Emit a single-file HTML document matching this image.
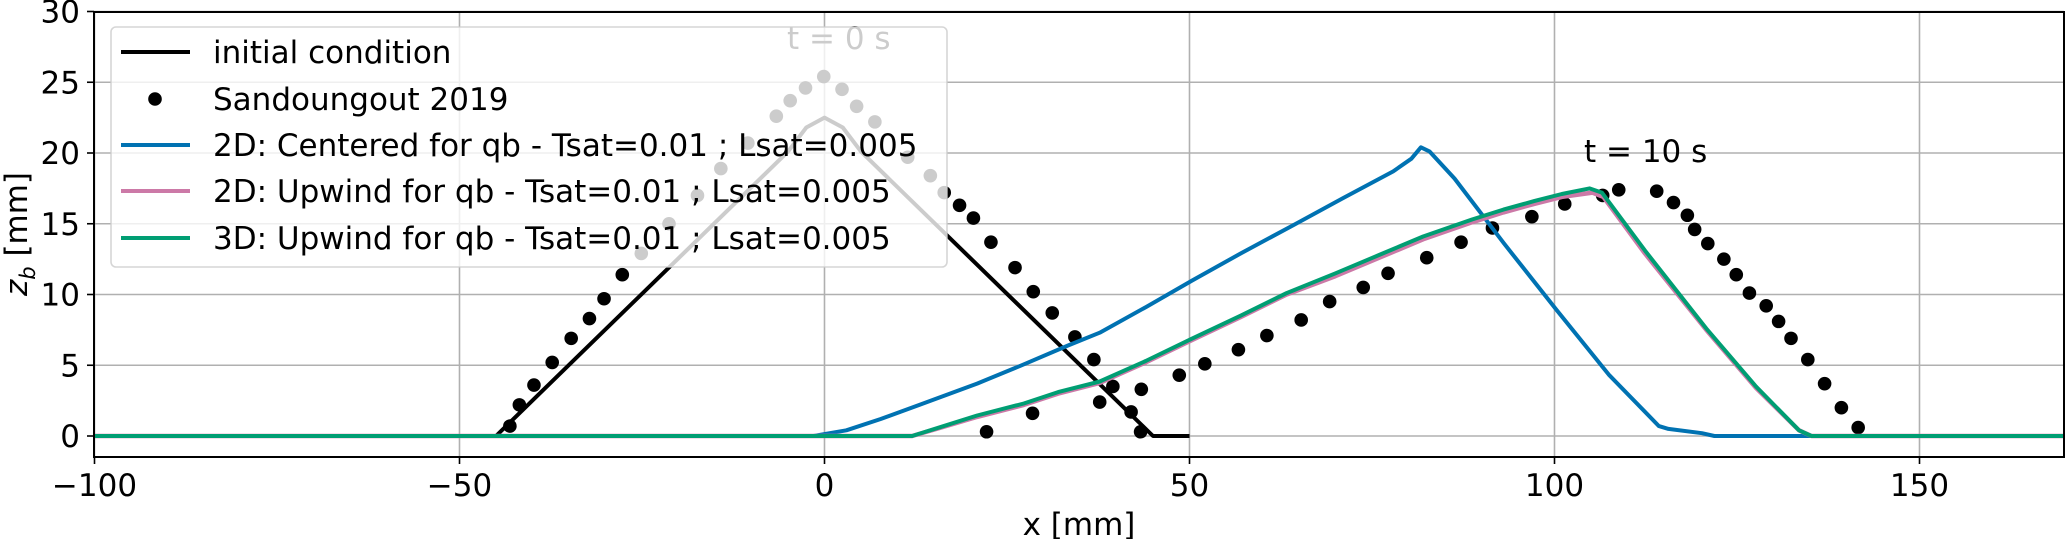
<!DOCTYPE html>
<html><head><meta charset="utf-8"><style>
html,body{margin:0;padding:0;background:#fff;}
svg{display:block;font-family:"DejaVu Sans","Liberation Sans",sans-serif;}
</style></head><body>
<svg id="chart" width="2067" height="539" viewBox="0 0 2067 539" xmlns="http://www.w3.org/2000/svg"></svg>
<script>
const xTicks = [-100, -50, 0, 50, 100, 150];
const yTicks = [0, 5, 10, 15, 20, 25, 30];
const initX = [-45, -5, -2.5, 0, 2.5, 5, 45, 50];
const initY = [0, 20.1, 21.8, 22.5, 21.8, 20.1, 0, 0];
const dotX0 = [-43.1,-41.8,-39.8,-37.3,-34.7,-32.2,-30.2,-27.7,-25.1,-21.3,-17.4,-14.2,-10.5,-6.6,-4.7,-2.6,-0.1,2.4,4.4,6.9,11.4,14.5,16.4,18.5,20.4,22.8,26.1,28.6,31.2,34.3,36.9,39.5,42.0,43.3];
const dotY0 = [0.7,2.2,3.6,5.2,6.9,8.3,9.7,11.4,12.9,15.0,17.0,18.9,20.7,22.6,23.7,24.6,25.4,24.5,23.3,22.2,19.7,18.4,17.2,16.3,15.4,13.7,11.9,10.2,8.7,7.0,5.4,3.5,1.7,0.3];
const dotX10 = [22.2,28.5,37.7,43.4,48.6,52.1,56.7,60.6,65.3,69.2,73.8,77.2,82.5,87.2,91.5,96.9,101.4,106.6,108.8,114.0,116.3,118.2,119.2,121.0,123.2,124.9,126.7,129.0,130.7,132.4,134.7,137.0,139.3,141.6];
const dotY10 = [0.3,1.6,2.4,3.3,4.3,5.1,6.1,7.1,8.2,9.5,10.5,11.5,12.6,13.7,14.7,15.5,16.4,17.0,17.4,17.3,16.5,15.6,14.6,13.6,12.5,11.4,10.1,9.2,8.1,6.9,5.4,3.7,2.0,0.6];
const blueX = [-100,-1.5,3,7.7,13,20.9,27,33.4,37.7,44,50.4,57,64.2,71,77.9,80.4,81.7,82.9,86.3,93.1,100.3,107.5,114.3,115.6,120.2,121.9,170];
const blueY = [0,0,0.4,1.2,2.2,3.7,5.0,6.4,7.3,9.1,11.0,12.9,14.9,16.8,18.7,19.6,20.4,20.1,18.2,13.6,8.9,4.3,0.7,0.5,0.2,0,0];
const pinkX = [-100,12,16,20.9,27.3,32,37.7,44,50.4,57,63.3,70,76.0,82,88.7,93,97.2,101,105.2,106.7,112.4,120.8,127.6,133.5,135.2,170];
const pinkY = [0,0,0.6,1.35,2.2,3.0,3.75,5.2,6.8,8.4,10.0,11.3,12.6,13.9,15.1,15.8,16.4,16.9,17.2,16.9,12.9,7.5,3.4,0.4,0,0];
const greenX = [-100,12,16,20.9,27.3,32,37.7,44,50.4,57,63.3,70,76.0,82,88.7,93,97.2,101,104.8,106.5,112.4,120.8,127.6,133.5,135.2,170];
const greenY = [0,0,0.65,1.45,2.3,3.1,3.85,5.3,6.9,8.5,10.1,11.5,12.8,14.1,15.3,16.0,16.6,17.1,17.5,17.2,13.1,7.6,3.5,0.4,0,0];
const legendLabels = ["initial condition","Sandoungout 2019","2D: Centered for qb - Tsat=0.01 ; Lsat=0.005","2D: Upwind for qb - Tsat=0.01 ; Lsat=0.005","3D: Upwind for qb - Tsat=0.01 ; Lsat=0.005"];

const L=94,R=2064,T=12,B=457;
const X=v=>824.5+7.3*v;
const Y=v=>436-14.15*v;
const NS="http://www.w3.org/2000/svg";
const svg=document.getElementById('chart');
function mk(tag,attrs,parent){const e=document.createElementNS(NS,tag);for(const k in attrs)e.setAttribute(k,attrs[k]);(parent||svg).appendChild(e);return e;}

const grid=mk('g',{});


xTicks.forEach(t=>{
  const l=mk('line',{x1:X(t),x2:X(t),y1:T,y2:B,stroke:'#b0b0b0','stroke-width':1.6},grid);
  
  
  const tk=mk('line',{x1:X(t),x2:X(t),y1:B,y2:B+7,stroke:'#000','stroke-width':1.6});
  
  
  const tx=mk('text',{x:X(t),y:496,'font-size':31,'text-anchor':'middle'});
  tx.textContent=t<0?'\u2212'+(-t):String(t);
  
  
});
yTicks.forEach(t=>{
  const l=mk('line',{x1:L,x2:R,y1:Y(t),y2:Y(t),stroke:'#b0b0b0','stroke-width':1.6},grid);
  
  
  const tk=mk('line',{x1:L-7,x2:L,y1:Y(t),y2:Y(t),stroke:'#000','stroke-width':1.6});
  
  
  const tx=mk('text',{x:L-14,y:Y(t)+11,'font-size':31,'text-anchor':'end'});
  tx.textContent=String(t);
  
  
});

const clip=mk('clipPath',{id:'pc'});
mk('rect',{x:L,y:T,width:R-L,height:B-T},clip);
const plot=mk('g',{'clip-path':'url(#pc)'});



function line(xs,ys,color,w,name){
  const d=xs.map((x,i)=>(i?'L':'M')+X(x).toFixed(1)+' '+Y(ys[i]).toFixed(1)).join(' ');
  const p=mk('path',{d:d,fill:'none',stroke:color,'stroke-width':w,'stroke-linejoin':'round'},plot);
  
  
}
line(initX,initY,'#000',4,'initial-condition-line');
function dots(xs,ys,name){
  xs.forEach((x,i)=>{
    const c=mk('circle',{cx:X(x),cy:Y(ys[i]),r:6.8,fill:'#000'},plot);
    
    
  });
}
dots(dotX0,dotY0,'sandoungout-point-t0');
dots(dotX10,dotY10,'sandoungout-point-t10');
line(blueX,blueY,'#0072B2',4,'2d-centered-line');
line(pinkX,pinkY,'#CC79A7',4.5,'2d-upwind-line');
line(greenX,greenY,'#009E73',4,'3d-upwind-line');

const t0=mk('text',{x:787,y:49,'font-size':31});
t0.textContent='t = 0 s';


const t10=mk('text',{x:1584,y:162,'font-size':31});
t10.textContent='t = 10 s';



const frame=mk('rect',{x:L,y:T,width:R-L,height:B-T,fill:'none',stroke:'#000','stroke-width':2});



const leg=mk('g',{});


mk('rect',{x:111,y:27,width:836,height:240,rx:5,fill:'rgba(255,255,255,0.8)',stroke:'rgba(204,204,204,0.8)','stroke-width':1.6},leg);
const legColors=['#000',null,'#0072B2','#CC79A7','#009E73'];
const legY=[52,99,145,191,238];
legendLabels.forEach((lab,i)=>{
  const y=legY[i];
  const it=mk('g',{},leg);
  
  
  if(legColors[i]) mk('line',{x1:121,x2:190,y1:y,y2:y,stroke:legColors[i],'stroke-width':4},it);
  else mk('circle',{cx:155,cy:y,r:6.8,fill:'#000'},it);
  const t=mk('text',{x:213,y:y+11,'font-size':31},it);
  t.textContent=lab;
});

const xl=mk('text',{x:1079,y:535,'font-size':31,'text-anchor':'middle'});
xl.textContent='x [mm]';


const yl=mk('text',{x:0,y:0,'font-size':31,'text-anchor':'middle',transform:'translate(27,234) rotate(-90)'});
yl.innerHTML='<tspan font-style="italic">z</tspan><tspan font-style="italic" font-size="21" dy="8">b</tspan><tspan dy="-8"> [mm]</tspan>';


</script>
</body></html>
